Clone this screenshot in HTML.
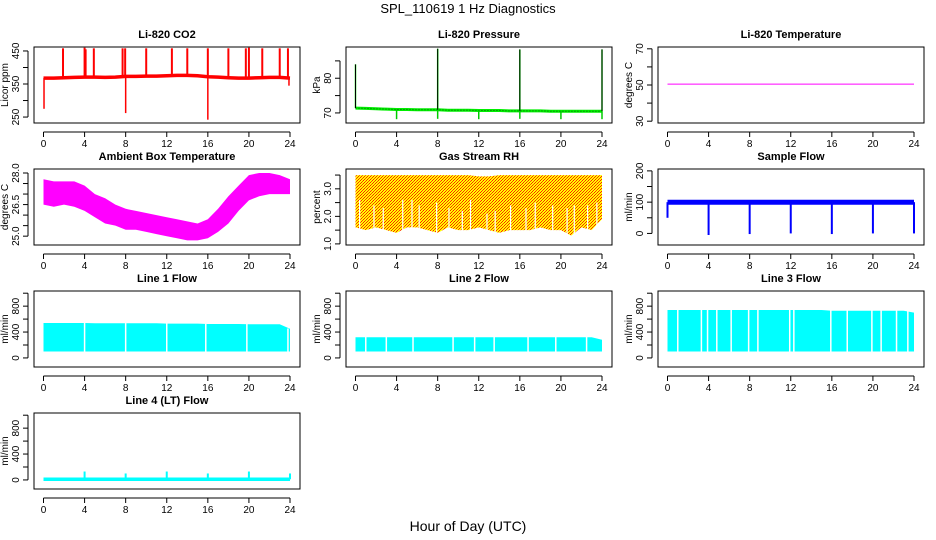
<!DOCTYPE html>
<html><head><meta charset="utf-8">
<style>
html,body{margin:0;padding:0;background:#fff;}
svg{display:block;font-family:"Liberation Sans",sans-serif;}
</style></head>
<body>
<svg id="chart" width="936" height="540" viewBox="0 0 936 540">
<defs>
<pattern id="rhpat" width="3" height="3" patternUnits="userSpaceOnUse">
<rect width="3" height="3" fill="#ffff00"/>
<rect x="0" y="0" width="1" height="1" fill="#ff2000"/>
<rect x="2" y="1" width="1" height="1" fill="#ff4000"/>
<rect x="1" y="2" width="1" height="1" fill="#ff2000"/>
</pattern>
</defs>
<text x="468" y="13" text-anchor="middle" font-size="13">SPL_110619  1 Hz Diagnostics</text>
<text x="468" y="531" text-anchor="middle" font-size="14">Hour of Day (UTC)</text>
</svg>
<script>
// ---- data arrays ----
const hours = [0,1,2,3,4,5,6,7,8,9,10,11,12,13,14,15,16,17,18,19,20,21,22,23,24];
const xTicks = [0,4,8,12,16,20,24];
const co2Base = [368,368,369,370,371,371,370,371,373,373,374,374,375,376,376,375,372,371,369,368,368,369,370,370,368];
const co2SpikeHours = [1.9,4.0,4.1,4.9,7.7,7.95,10.0,12.5,14.0,16.0,18.0,19.7,20.0,21.3,23.0,23.8];
const co2SpikeVals = [458,460,455,458,458,458,458,458,458,458,458,458,460,458,458,458];
const co2DipHours = [0.05,8.0,16.0,23.9];
const co2DipVals = [275,262,242,345];
const presBase = [71.4,71.3,71.2,71.1,71.0,71.0,70.9,70.9,70.9,70.8,70.8,70.8,70.7,70.7,70.7,70.6,70.6,70.6,70.6,70.5,70.5,70.5,70.5,70.5,70.5];
const presSpikeHours = [0,8,16,24];
const presSpikeVals = [84,88.5,88.3,88.3];
const presDipHours = [4,8,12,16,20,24];
const presDipVals = [68.2,68.3,68.2,68.3,68.2,68.2];
const tempVals = [50.5,50.5];
const ambUpper = [27.7,27.6,27.6,27.6,27.4,27.0,26.8,26.5,26.3,26.2,26.1,26.0,25.9,25.8,25.7,25.6,25.8,26.3,26.9,27.4,27.9,28.0,28.0,27.9,27.7];
const ambLower = [26.5,26.4,26.5,26.4,26.2,25.9,25.6,25.5,25.3,25.3,25.2,25.1,25.0,24.9,24.8,24.8,24.9,25.2,25.6,26.2,26.7,26.9,27.0,27.0,27.0];
const rhUpper = [3.5,3.5,3.5,3.5,3.5,3.5,3.5,3.5,3.5,3.5,3.5,3.5,3.45,3.45,3.5,3.5,3.5,3.5,3.5,3.5,3.5,3.5,3.5,3.5,3.5];
const rhLower = [1.6,1.5,1.6,1.5,1.4,1.6,1.6,1.5,1.4,1.6,1.5,1.5,1.6,1.5,1.4,1.5,1.5,1.5,1.6,1.5,1.5,1.3,1.6,1.5,1.9];
const rhNotchHours = [0.4,1.8,2.7,4.6,5.5,6.2,7.9,9.1,10.4,11.2,12.8,13.6,15.1,16.6,17.5,19.2,20.6,21.3,22.6,23.5];
const rhNotchVals = [2.6,2.4,2.3,2.6,2.6,2.4,2.5,2.3,2.2,2.6,2.1,2.2,2.4,2.3,2.5,2.4,2.3,2.4,2.4,2.5];
const sfBase = [100,100,100,100,100,100,100,100,100,100,100,100,100,100,100,100,100,100,100,100,100,100,100,100,100];
const sfDipHours = [0,4,8,12,16,20,24];
const sfDipVals = [50,-5,-2,0,-2,0,0];
const l1Upper = [540,540,540,540,540,535,535,535,535,535,535,535,530,530,530,530,525,525,525,525,520,520,520,520,450];
const l1GapHours = [4.0,8.0,12.0,15.8,19.8,23.8];
const l2Upper = [320,320,320,320,320,320,320,320,320,320,320,320,320,320,320,320,320,320,320,320,320,320,320,320,280];
const l2GapHours = [1.0,3.0,5.6,9.5,11.6,13.5,16.8,19.5,22.5];
const l3Upper = [740,740,740,740,740,740,740,740,740,740,740,740,740,740,740,740,730,730,730,730,730,730,730,730,700];
const l3GapHours = [1.0,3.3,3.9,4.8,6.2,7.9,8.8,11.9,12.3,15.9,17.5,19.9,20.8,22.3,23.4];
const l4Base = [10,10,10,10,10,10,10,10,10,10,10,10,10,10,10,10,10,10,10,10,10,10,10,10,10];
const l4SpikeHours = [4,8,12,16,20,24];
const l4SpikeVals = [130,100,130,100,130,100];
const flowLower = 100;

const svg = document.getElementById('chart');
const NS = 'http://www.w3.org/2000/svg';
function mk(tag, attrs, parent){
  const e = document.createElementNS(NS, tag);
  for (const k in attrs) e.setAttribute(k, attrs[k]);
  (parent||svg).appendChild(e);
  return e;
}
const colL = [34,346,658], rowT = [47,169,291,413], PW = 266, PH = 76;

function panel(c, r, name, title, ylab, ylim, yticks, ylabels){
  const L = colL[c], T = rowT[r], R = L+PW, B = T+PH;
  const g = mk('g', {});
  
  
  const xs = h => L + 9.5 + (h/24)*(PW-19.5);
  const ys = v => B - (v-ylim[0])/(ylim[1]-ylim[0])*PH;
  const t = mk('text', {x:(L+R)/2, y:T-9, 'text-anchor':'middle','font-size':'11','font-weight':'bold'}, g);
  t.textContent = title;
  
  
  // x axis
  const xa = mk('g', {}, g);
  
  
  const ay = B+9;
  mk('line', {x1:xs(0), x2:xs(24), y1:ay, y2:ay, stroke:'#000'}, xa);
  xTicks.forEach(h=>{
    mk('line', {x1:xs(h), x2:xs(h), y1:ay, y2:ay+5, stroke:'#000'}, xa);
    const tl = mk('text', {x:xs(h), y:ay+15, 'text-anchor':'middle','font-size':'10'}, xa);
    tl.textContent = h;
  });
  // y axis
  const ya = mk('g', {}, g);
  
  
  const ax = L-6;
  mk('line', {x1:ax, x2:ax, y1:ys(yticks[0]), y2:ys(yticks[yticks.length-1]), stroke:'#000'}, ya);
  yticks.forEach((v,i)=>{
    mk('line', {x1:ax-5, x2:ax, y1:ys(v), y2:ys(v), stroke:'#000'}, ya);
    if (ylabels[i] !== ''){
      const tl = mk('text', {x:ax-9, y:ys(v), 'text-anchor':'middle','font-size':'10',transform:`rotate(-90 ${ax-9} ${ys(v)})`}, ya);
      tl.textContent = ylabels[i];
    }
  });
  const yt = mk('text', {x:L-26, y:(T+B)/2, 'text-anchor':'middle','font-size':'10',transform:`rotate(-90 ${L-26} ${(T+B)/2})`}, g);
  yt.textContent = ylab;
  
  
  const plot = mk('g', {}, g);
  
  
  const box = mk('rect', {x:L, y:T, width:PW, height:PH, fill:'none', stroke:'#000'}, g);
  
  
  return {xs, ys, plot};
}
function pathFrom(xsArr, ysArr){ return xsArr.map((x,i)=>(i?'L':'M')+x.toFixed(1)+','+ysArr[i].toFixed(1)).join(''); }
function vseg(p, parent, h, v0, v1, col, w){
  mk('line', {x1:p.xs(h), x2:p.xs(h), y1:p.ys(v0), y2:p.ys(v1), stroke:col, 'stroke-width':w}, parent);
}
function band(p, upper, lower, fill){
  const up = hours.map(h=>p.xs(h)), yu = upper.map(v=>p.ys(v));
  const yl = lower.map(v=>p.ys(v));
  const d = pathFrom(up, yu) + hours.slice().reverse().map((h,i)=>'L'+p.xs(h).toFixed(1)+','+yl[yl.length-1-i].toFixed(1)).join('') + 'Z';
  return mk('path', {d, fill}, p.plot);
}

// CO2
let p = panel(0,0,'co2','Li-820 CO2','Licor ppm',[232,462],[250,300,350,400,450],['250','','350','','450']);
mk('path',{d:pathFrom(hours.map(p.xs), co2Base.map(p.ys)), fill:'none', stroke:'#ff0000','stroke-width':3.5}, p.plot);
co2SpikeHours.forEach((h,i)=>vseg(p,p.plot,h,co2Base[Math.round(h)],co2SpikeVals[i],'#ff0000',2));
co2DipHours.forEach((h,i)=>vseg(p,p.plot,h,co2Base[Math.round(h)],co2DipVals[i],'#ff0000',1.5));

// Pressure
p = panel(1,0,'pressure','Li-820 Pressure','kPa',[67.1,89],[70,75,80,85],['70','','80','']);
mk('path',{d:pathFrom(hours.map(p.xs), presBase.map(p.ys)), fill:'none', stroke:'#00ee00','stroke-width':3}, p.plot);
mk('path',{d:pathFrom(hours.map(p.xs), presBase.map(p.ys)), fill:'none', stroke:'#006000','stroke-width':1,'stroke-dasharray':'1 2'}, p.plot);
presSpikeHours.forEach((h,i)=>{vseg(p,p.plot,h,presBase[h],presSpikeVals[i],'#00ee00',1.5);vseg(p,p.plot,h,presBase[h],presSpikeVals[i],'#000','0.8" stroke-dasharray="1 2');});
presDipHours.forEach((h,i)=>vseg(p,p.plot,h,presBase[h],presDipVals[i],'#00cc00',1.5));

// Temperature
p = panel(2,0,'li820-temperature','Li-820 Temperature','degrees C',[29,71],[30,40,50,60,70],['30','','50','','70']);
mk('path',{d:pathFrom([0,24].map(p.xs), tempVals.map(p.ys)), fill:'none', stroke:'#ff00ff','stroke-width':1}, p.plot);

// Ambient
p = panel(0,1,'ambient-temperature','Ambient Box Temperature','degrees C',[24.58,28.19],[25,25.5,26,26.5,27,27.5,28],['25.0','','','26.5','','','28.0']);
band(p, ambUpper, ambLower, '#ff00ff');

// RH
p = panel(1,1,'gas-stream-rh','Gas Stream RH','percent',[0.96,3.72],[1,1.5,2,2.5,3,3.5],['1.0','','2.0','','3.0','']);
band(p, rhUpper, rhLower, 'url(#rhpat)');
rhNotchHours.forEach((h,i)=>vseg(p,p.plot,h,1.0,rhNotchVals[i],'#ffffff',1.2));

// Sample flow
p = panel(2,1,'sample-flow','Sample Flow','ml/min',[-37,206],[0,50,100,150,200],['0','','100','','200']);
band(p, sfBase.map(v=>v+8), sfBase.map(v=>v-8), '#0000ff');
sfDipHours.forEach((h,i)=>vseg(p,p.plot,h,sfBase[h],sfDipVals[i],'#0000ff',2));

// Line flows
const flowTicks=[0,200,400,600,800,1000], flowLabels=['0','','400','','800',''];
function flowPanel(c,r,name,title,upper,gaps){
  const q = panel(c,r,name,title,'ml/min',[-140,1034],flowTicks,flowLabels);
  band(q, upper, hours.map(()=>flowLower), '#00ffff');
  gaps.forEach(h=>vseg(q,q.plot,h,flowLower-10,upper[Math.round(h)]+5,'#ffffff',1.5));
  return q;
}
flowPanel(0,2,'line1-flow','Line 1 Flow',l1Upper,l1GapHours);
flowPanel(1,2,'line2-flow','Line 2 Flow',l2Upper,l2GapHours);
flowPanel(2,2,'line3-flow','Line 3 Flow',l3Upper,l3GapHours);
p = panel(0,3,'line4-flow','Line 4 (LT) Flow','ml/min',[-140,1034],flowTicks,flowLabels);
mk('path',{d:pathFrom(hours.map(p.xs), l4Base.map(p.ys)), fill:'none', stroke:'#00ffff','stroke-width':3.5}, p.plot);
l4SpikeHours.forEach((h,i)=>vseg(p,p.plot,h,l4Base[h],l4SpikeVals[i],'#00ffff',2));
</script>
</body></html>
